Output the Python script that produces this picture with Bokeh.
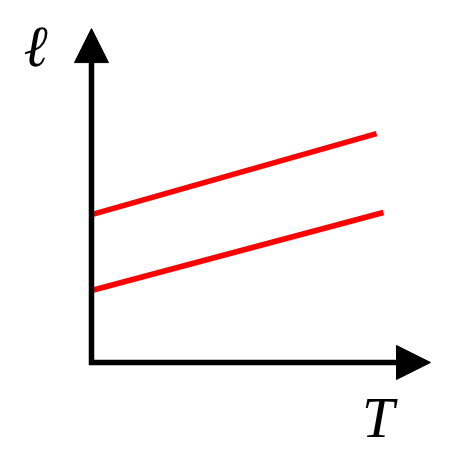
from bokeh.plotting import figure
from bokeh.models import Range1d, Arrow, NormalHead, Label
from bokeh.embed import file_html
from bokeh.resources import INLINE

# Schematic data (arbitrary units): length l versus temperature T
upper_T = [0.0, 9.5]
upper_L = [4.93, 7.63]
lower_T = [0.0, 9.73]
lower_L = [2.4, 5.0]
axis_T_max = 11.3
axis_L_max = 11.13
x_label = "T"
y_label = "ℓ"

HEAD_PX = 34
PX_PER_UNIT = 30.0
head_len = HEAD_PX / PX_PER_UNIT

p = figure(width=440, height=451, output_backend="svg", toolbar_location=None,
           x_range=Range1d(-3.033, 11.633), y_range=Range1d(-2.967, 12.067),
           min_border=0, x_axis_type=None, y_axis_type=None)
p.outline_line_color = None
p.grid.visible = False
p.background_fill_color = "white"

p.line(upper_T, upper_L, line_color="#ff0000", line_width=5.5)
p.line(lower_T, lower_L, line_color="#ff0000", line_width=5.5)

# axes: one polyline with a mitred corner, heads drawn separately
p.line([0, 0, axis_T_max - head_len + 0.1], [axis_L_max - head_len + 0.1, 0, 0],
       line_color="black", line_width=5.5, line_join="miter", line_cap="butt")
p.add_layout(Arrow(x_start=0, y_start=axis_L_max - head_len, x_end=0, y_end=axis_L_max,
                   line_alpha=0, line_width=1,
                   end=NormalHead(size=HEAD_PX, fill_color="black", line_color="black", line_width=1)))
p.add_layout(Arrow(x_start=axis_T_max - head_len, y_start=0, x_end=axis_T_max, y_end=0,
                   line_alpha=0, line_width=1,
                   end=NormalHead(size=HEAD_PX, fill_color="black", line_color="black", line_width=1)))

p.add_layout(Label(x=-1.82, y=10.55, text=y_label, text_font="DejaVu Serif",
                   text_font_style="bold italic", text_font_size="58px",
                   text_align="center", text_baseline="middle", text_color="black"))
p.add_layout(Label(x=9.55, y=-1.83, text=x_label, text_font="Liberation Serif",
                   text_font_style="italic", text_font_size="58px",
                   text_align="center", text_baseline="middle", text_color="black"))

open("out.html", "w").write(file_html(p, INLINE))
